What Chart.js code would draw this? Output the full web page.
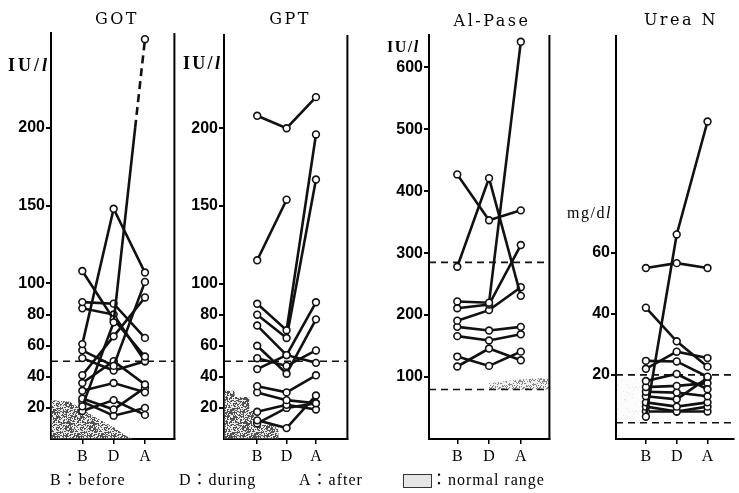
<!DOCTYPE html>
<html><head><meta charset="utf-8">
<script src="https://cdn.jsdelivr.net/npm/chart.js@4.4.1/dist/chart.umd.min.js"></script>
<style>
html,body{margin:0;padding:0;background:#fff;}
#wrap{position:relative;width:739px;height:493px;overflow:hidden;background:#fff;}
canvas{position:absolute;top:0;}
.t{position:absolute;white-space:nowrap;color:#000;line-height:1;}
.title{font-family:"DejaVu Serif",serif;font-size:16px;letter-spacing:2.5px;transform:translateX(-50%);}
.unit{font-family:"Liberation Serif",serif;font-weight:bold;}
.leg{font-family:"Liberation Serif","Noto Sans CJK JP",serif;font-size:16px;letter-spacing:1px;top:472px;}
#box{position:absolute;left:403px;top:474px;width:27px;height:12px;border:1px solid #333;background:#e6e6e6;}
</style></head><body>
<div id="wrap">
  <canvas id="cGOT" width="180" height="493" style="left:0px"></canvas>
  <canvas id="cGPT" width="176" height="493" style="left:177px"></canvas>
  <canvas id="cALP" width="202" height="493" style="left:353px"></canvas>
  <canvas id="cUREA" width="184" height="493" style="left:555px"></canvas>

  <div class="t title" style="left:117px;top:11px">GOT</div>
  <div class="t title" style="left:290px;top:11px">GPT</div>
  <div class="t title" style="left:492px;top:13px">Al-Pase</div>
  <div class="t title" style="left:681px;top:12px">Urea N</div>

  <div class="t unit" style="left:8px;top:56px;font-size:18px;letter-spacing:3px">IU/<i>l</i></div>
  <div class="t unit" style="left:183px;top:54px;font-size:18px;letter-spacing:2.3px">IU/<i>l</i></div>
  <div class="t unit" style="left:387px;top:39px;font-size:16px;letter-spacing:1.5px">IU/<i>l</i></div>
  <div class="t unit" style="left:567px;top:205px;font-size:16px;font-weight:normal;letter-spacing:1.5px">mg/d<i>l</i></div>

  <div class="t leg" style="left:50px">B：before</div>
  <div class="t leg" style="left:179px">D：during</div>
  <div class="t leg" style="left:299px">A：after</div>
  <div id="box"></div>
  <div class="t leg" style="left:431px">：normal range</div>
</div>
<script>
// ---- categories ----
const stages = ['B', 'D', 'A'];
const stagePos = [1, 2, 3];

// ---- GOT (IU/l) : one entry per patient ----
const gotBefore = [61, 21, 108, 88, 84, 57, 41, 52, 36, 31, 26, 24, 18];
const gotDuring = [148, 75, 77, 87, 80, 47, 66, 44, 50, 36, 19, 15, 25];
const gotAfter  = [107, 257, 53, 65, 50, 101, 91, 50, 35, 30, 33, 20, 15.5];
const gotTicks  = [20, 40, 60, 80, 100, 150, 200];
const gotUpper  = 50;
const gotDashFrom = 200;

// ---- GPT (IU/l) ----
const gptBefore = [208, 115, 87, 80, 73, 60, 52, 45, 34, 30, 17.5, 12, 10];
const gptDuring = [200, 154, 70, 65, 54, 42, 47, 54, 30, 25, 22, 7, 20];
const gptAfter  = [220, null, 196, 167, 88, 77, 57, 49, 41, 23, 19, 28, 23];
const gptTicks  = [20, 40, 60, 80, 100, 150, 200];
const gptUpper  = 50;

// ---- Al-Pase (IU/l) ----
const alpBefore = [427, 278, 222, 211, 191, 181, 166, 133, 117];
const alpDuring = [353, 421, 220, 217, 208, 175, 159, 118, 146];
const alpAfter  = [369, 231, 641, 313, 245, 181, 169, 141, 127];
const alpTicks  = [100, 200, 300, 400, 500, 600];
const alpRange  = [80, 285];

// ---- Urea N (mg/dl) ----
const ureaBefore = [55, 6.3, 42, 24.6, 22, 18, 16, 14.5, 13, 11, 9.6, 8];
const ureaDuring = [56.6, 66, 31, 24.4, 27.6, 20.3, 16.4, 14.2, 12, 9.6, 8, 8];
const ureaAfter  = [55, 103, 22.7, 19.4, 25.5, 15.3, 17.3, 13, 19, 11, 9.6, 8];
const ureaTicks  = [20, 40, 60];
const ureaRange  = [4.3, 20];

// ---- shaded normal-range areas [stage position, value] ----
const gotShade  = [[0,25],[0.6,24],[1,19],[1.5,13],[2,7.5],[2.4,2],[2.6,0]];
const gptShade  = [[-0.13,31],[0.23,31],[0.23,27],[0.73,27],[0.73,18],[0.9,18],[0.9,9],[1.73,9],[1.73,0]];
const alpShade  = [[2,80],[2,90],[2.5,93],[3,96],[3.5,98],[3.9,98]];
const ureaShade = [[0.03,19],[0.8,19]];

// speckle pattern (deterministic hash) for shaded regions
function speckle(density, alpha) {
  const c = document.createElement('canvas');
  c.width = 24; c.height = 24;
  const g = c.getContext('2d');
  const img = g.createImageData(24, 24);
  for (let y = 0; y < 24; y++) for (let x = 0; x < 24; x++) {
    const h = ((x * 73856093) ^ (y * 19349663) ^ (x * y * 83492791)) >>> 0;
    const on = (h % 100) < density;
    const i = (y * 24 + x) * 4;
    img.data[i] = img.data[i+1] = img.data[i+2] = on ? 50 : 200;
    img.data[i+3] = on ? Math.round(255 * alpha) : Math.round(110 * alpha);
  }
  g.putImageData(img, 0, 0);
  return g.createPattern(c, 'repeat');
}

const frame = {
  id: 'frame',
  afterDatasetsDraw(chart, args, opts) {
    if (!opts.right) return;
    const {ctx, chartArea: a} = chart;
    ctx.save();
    ctx.strokeStyle = '#000'; ctx.lineWidth = 2;
    ctx.beginPath(); ctx.moveTo(a.right, a.top); ctx.lineTo(a.right, a.bottom); ctx.stroke();
    ctx.restore();
  }
};

function seriesPoints(b, d, a, dashFrom) {
  const vals = [b, d, a];
  const pts = [];
  for (let k = 0; k < 3; k++) {
    if (vals[k] === null || vals[k] === undefined) continue;
    if (dashFrom !== undefined && k > 0 && vals[k-1] !== null && vals[k-1] < dashFrom && vals[k] > dashFrom) {
      const t = (dashFrom - vals[k-1]) / (vals[k] - vals[k-1]);
      pts.push({x: stagePos[k-1] + t * (stagePos[k] - stagePos[k-1]), y: dashFrom, brk: true});
    }
    pts.push({x: stagePos[k], y: vals[k]});
  }
  return pts;
}

function makePanel(id, cfg) {
  const datasets = [];
  cfg.before.forEach((b, i) => {
    datasets.push({
      data: seriesPoints(b, cfg.during[i], cfg.after[i], cfg.dashFrom),
      borderColor: '#111', borderWidth: 2.6,
      pointRadius: ctx => (ctx.raw && ctx.raw.brk) ? 0 : 3.4,
      pointBorderWidth: 1.6, pointBackgroundColor: '#fff', pointBorderColor: '#111',
      segment: { borderDash: c => (cfg.dashFrom !== undefined && c.p0.parsed.y >= cfg.dashFrom - 1e-6) ? [8, 5] : undefined },
      tension: 0, order: 1
    });
  });
  cfg.limits.forEach(v => {
    datasets.push({
      data: [{x: cfg.xMin, y: v}, {x: cfg.xMax, y: v}],
      borderColor: '#111', borderWidth: 1.6, borderDash: [7, 5],
      pointRadius: 0, order: 2
    });
  });
  if (cfg.shade) {
    datasets.push({
      data: cfg.shade.map(p => ({x: p[0], y: p[1]})),
      borderWidth: 0, borderColor: 'rgba(0,0,0,0)', pointRadius: 0,
      backgroundColor: cfg.shadeFill, fill: cfg.shadeTo, order: 3
    });
  }
  const font = {family: 'Liberation Sans', size: 16, weight: 'bold'};
  new Chart(document.getElementById(id), {
    type: 'line',
    data: { datasets },
    plugins: [frame],
    options: {
      responsive: false, animation: false, events: [],
      layout: { padding: { top: cfg.top, bottom: 24, left: 0, right: cfg.padRight } },
      plugins: { legend: {display: false}, tooltip: {enabled: false}, frame: {right: cfg.rightBorder} },
      scales: {
        x: {
          type: 'linear', min: cfg.xMin, max: cfg.xMax,
          afterBuildTicks: s => { s.ticks = stagePos.map(v => ({value: v})); },
          afterFit: s => { s.height = 30; },
          ticks: { callback: v => stages[stagePos.indexOf(v)], color: '#000', padding: 3,
                   font: {family: 'Liberation Serif', size: 16} },
          grid: { drawOnChartArea: false, drawTicks: true, tickLength: 5, color: '#000', lineWidth: 1.5 },
          border: { display: true, color: '#000', width: 2 }
        },
        y: {
          type: 'linear', min: cfg.yMin, max: cfg.yMax,
          afterBuildTicks: s => { s.ticks = cfg.ticks.map(v => ({value: v})); },
          afterFit: s => { s.width = cfg.yWidth; },
          ticks: { color: '#000', padding: 1, font },
          grid: { drawOnChartArea: false, drawTicks: true, tickLength: 5, color: '#000', lineWidth: 2 },
          border: { display: true, color: '#000', width: 2 }
        }
      }
    }
  });
}

makePanel('cGOT', {
  before: gotBefore, during: gotDuring, after: gotAfter, dashFrom: gotDashFrom,
  ticks: gotTicks, limits: [gotUpper], shade: gotShade, shadeTo: 'origin', shadeFill: speckle(50, 0.85),
  xMin: 0, xMax: 3.94, yMin: 0, yMax: 261, top: 33, yWidth: 51, padRight: 3, rightBorder: true
});
makePanel('cGPT', {
  before: gptBefore, during: gptDuring, after: gptAfter,
  ticks: gptTicks, limits: [gptUpper], shade: gptShade, shadeTo: 'origin', shadeFill: speckle(55, 0.85),
  xMin: -0.13, xMax: 4.07, yMin: 0, yMax: 260, top: 35, yWidth: 47, padRight: 3, rightBorder: true
});
makePanel('cALP', {
  before: alpBefore, during: alpDuring, after: alpAfter,
  ticks: alpTicks, limits: alpRange, shade: alpShade, shadeTo: {value: alpRange[0]}, shadeFill: speckle(30, 0.6),
  xMin: 0.11, xMax: 3.9, yMin: 0, yMax: 652, top: 35, yWidth: 76, padRight: 3, rightBorder: true
});
makePanel('cUREA', {
  before: ureaBefore, during: ureaDuring, after: ureaAfter,
  ticks: ureaTicks, limits: ureaRange, shade: ureaShade, shadeTo: {value: 5}, shadeFill: speckle(5, 0.12),
  xMin: 0.03, xMax: 3.84, yMin: -1, yMax: 131, top: 36, yWidth: 61, padRight: 0, rightBorder: false
});
</script>
</body></html>
